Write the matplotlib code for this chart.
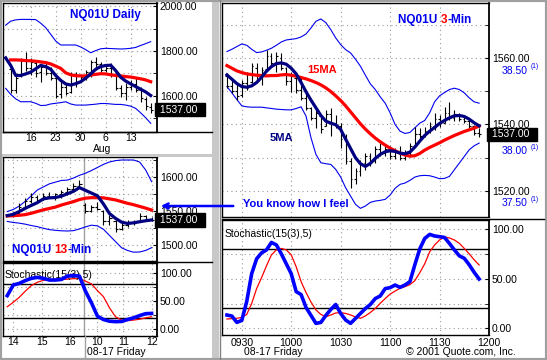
import matplotlib
matplotlib.use('Agg')
import matplotlib.pyplot as plt
import matplotlib.patches as mpatches
import matplotlib.lines as mlines
from matplotlib.ticker import FormatStrFormatter
import numpy as np

plt.rcParams['font.family'] = ['Liberation Sans', 'DejaVu Sans']
plt.rcParams['font.size'] = 7.5

W, H = 547, 360
BLUE = '#0000ee'
NAVY = '#000080'
RED = '#ff0000'
GRID = '#9a9a9a'

# ---------------- NQ01U daily (trading day index, 0 = Jul 16) ----------------
d_open = [1720, 1625, 1690, 1755, 1725, 1748, 1705, 1728, 1700, 1680, 1605, 1640, 1615, 1695, 1662,
          1685, 1705, 1750, 1740, 1715, 1725, 1690, 1635, 1612, 1640, 1650, 1625, 1585, 1550]
d_high = [1730, 1688, 1768, 1795, 1768, 1752, 1745, 1752, 1730, 1692, 1670, 1655, 1707, 1707, 1692,
          1714, 1760, 1775, 1752, 1737, 1745, 1692, 1647, 1655, 1670, 1685, 1640, 1595, 1565]
d_low = [1612, 1610, 1685, 1712, 1692, 1685, 1662, 1690, 1670, 1588, 1588, 1602, 1612, 1640, 1662,
         1670, 1685, 1715, 1707, 1707, 1685, 1625, 1595, 1580, 1625, 1617, 1572, 1535, 1520]
d_close = [1625, 1680, 1760, 1725, 1750, 1700, 1730, 1700, 1680, 1600, 1640, 1610, 1695, 1660, 1685,
           1705, 1750, 1740, 1715, 1725, 1695, 1635, 1610, 1640, 1650, 1625, 1590, 1555, 1537]
d_ma5 = [1769, 1735, 1690, 1690, 1697, 1705, 1720, 1735, 1730, 1718, 1690, 1668, 1652, 1647, 1653,
         1662, 1678, 1697, 1718, 1730, 1735, 1736, 1712, 1682, 1665, 1652, 1640, 1628, 1616, 1600]
d_ma15 = [1760, 1760, 1759, 1757, 1756, 1754, 1751, 1748, 1742, 1732, 1722, 1702, 1693, 1689, 1688,
          1688, 1692, 1695, 1698, 1697, 1693, 1690, 1688, 1685, 1683, 1679, 1675, 1670, 1662]
d_upper = [1916, 1934, 1940, 1942, 1942, 1942, 1941, 1925, 1905, 1875, 1845, 1827, 1827, 1827, 1827,
           1818, 1806, 1792, 1802, 1810, 1812, 1811, 1810, 1809, 1810, 1812, 1816, 1825, 1833, 1842]
d_lower = [1632, 1605, 1585, 1572, 1572, 1572, 1565, 1555, 1556, 1562, 1565, 1568, 1572, 1562, 1557,
           1557, 1557, 1559, 1561, 1564, 1564, 1562, 1560, 1560, 1557, 1552, 1542, 1522, 1500, 1475]
d_ticks = [0, 5, 10, 15, 20]
d_ticklabels = ['16', '23', '30', '6', '13']

# ---------------- NQ01U 13-min (bar index) ----------------
m13_open = [1542.0, 1547.5, 1556, 1565, 1570, 1566, 1572, 1570, 1574, 1578, 1582, 1586,
            1558, 1550, 1555, 1550, 1535, 1535, 1524, 1530, 1534, 1535, 1542, 1538]
m13_high = [1548.8, 1561, 1568.3, 1575.6, 1573.2, 1575.6, 1578, 1575.6, 1580.5, 1585.4, 1590.2, 1595.1,
            1561, 1558.5, 1563.4, 1551.2, 1543.9, 1536.6, 1534.1, 1536.6, 1536.6, 1546.3, 1543.9, 1541.5]
m13_low = [1541.5, 1546.3, 1553.7, 1561, 1563.4, 1565.9, 1568.3, 1565.9, 1569.3, 1573.2, 1578, 1582.9,
           1546.3, 1548.8, 1551.2, 1529.3, 1529.3, 1518.5, 1522, 1526.8, 1529.3, 1534.1, 1536.6, 1535.1]
m13_close = [1547.5, 1556, 1565, 1570, 1566, 1572, 1570, 1574, 1578, 1582, 1586, 1590,
             1550, 1555, 1553, 1535, 1540, 1524, 1530, 1534, 1532, 1542, 1538, 1537]
m13_ma5 = [1543, 1545, 1549, 1553.7, 1558, 1562, 1567.5, 1569, 1569.5, 1571.5, 1575, 1578.5, 1584,
           1580, 1576, 1572, 1560, 1546, 1539, 1533.5, 1531.5, 1532.5, 1534, 1535.5, 1536.6]
m13_ma15 = [1542.4, 1543, 1543.5, 1544.5, 1546.5, 1549, 1551.5, 1553.5, 1555.5, 1558.5, 1561, 1563.5, 1566.5,
            1568.5, 1569.3, 1569.3, 1569, 1567.5, 1566, 1563.5, 1561, 1559, 1556.5, 1554, 1551.2]
m13_upper = [1549, 1552, 1557, 1564, 1572, 1580.5, 1585, 1589.5, 1592, 1594.5, 1595, 1598, 1602,
             1605, 1609, 1613.5, 1618, 1621.5, 1623.5, 1624.4, 1624.4, 1624.4, 1621.5, 1610, 1592.7]
m13_lower = [1534.5, 1533, 1532, 1530.5, 1528.5, 1526.8, 1524.5, 1522.5, 1521.5, 1520.8, 1520.5, 1521, 1523.5,
             1526.5, 1529, 1528, 1523, 1514, 1505, 1496, 1492, 1489.5, 1489.8, 1492, 1496.1]
m13_k = [60, 79, 82, 87, 91, 92.8, 91, 88, 88, 89, 95, 96, 95,
         68, 47, 23, 17, 14, 13.2, 13.5, 17, 20, 24, 27.5, 28]
m13_d = [40, 48, 57, 68, 78, 84, 87.5, 89, 89, 89, 89.5, 90.5, 90.5,
         86, 81, 69, 58, 38, 22, 16, 15, 16, 17.5, 20, 22]
m13_ticks = [-0.1, 4.7, 9.4, 13.9, 18.3, 23.0]
m13_ticklabels = ['14', '15', '16', '10', '11', '12']
m13_session_break = 11.8

# ---------------- NQ01U 3-min, 08-17, first bar 09:21 ----------------
m3_first = 9 * 60 + 21
m3_step = 3
m3_open = [1554.5, 1551.5, 1550.0, 1548.8, 1552.5, 1552.8, 1557.0, 1554.5, 1556.8, 1560.5,
           1558.5, 1560.0, 1557.0, 1553.0, 1554.0, 1550.5, 1548.0, 1545.0, 1542.0, 1542.5,
           1539.5, 1543.0, 1540.5, 1539.5, 1535.5, 1529.0, 1523.5, 1526.0, 1528.5, 1530.5,
           1529.0, 1532.5, 1531.5, 1532.5, 1530.5, 1532.0, 1530.0, 1531.5, 1533.5, 1537.0,
           1536.5, 1538.0, 1539.5, 1541.5, 1540.5, 1543.5, 1542.0, 1543.0, 1541.5, 1541.0,
           1539.5, 1537.5]
m3_high = [1555.4, 1553.9, 1552.4, 1553.4, 1555.9, 1558.4, 1558.4, 1557.4, 1562.4, 1561.4,
           1561.9, 1561.4, 1557.4, 1555.9, 1554.4, 1553.9, 1550.4, 1545.4, 1544.9, 1542.9,
           1544.4, 1544.9, 1542.9, 1540.4, 1537.0, 1530.0, 1527.0, 1529.4, 1531.4, 1531.4,
           1533.4, 1534.4, 1533.4, 1533.4, 1532.9, 1533.5, 1532.3, 1534.3, 1539.3, 1538.8,
           1539.3, 1540.8, 1543.4, 1542.9, 1545.4, 1546.9, 1544.4, 1543.4, 1542.9, 1541.9,
           1539.9, 1538.8]
m3_low = [1550.9, 1549.4, 1547.4, 1548.4, 1550.4, 1552.4, 1553.4, 1551.9, 1556.4, 1557.4,
          1555.9, 1556.4, 1551.9, 1549.9, 1549.4, 1547.4, 1544.4, 1541.4, 1538.9, 1537.4,
          1539.4, 1536.4, 1538.9, 1533.0, 1528.0, 1521.0, 1522.0, 1524.4, 1526.4, 1527.4,
          1528.4, 1530.4, 1530.4, 1529.6, 1529.6, 1529.3, 1529.3, 1530.3, 1533.3, 1535.3,
          1536.3, 1537.3, 1538.3, 1539.3, 1540.4, 1541.4, 1540.9, 1540.9, 1540.4, 1538.8,
          1536.8, 1536.3]
m3_close = [1551.5, 1550.0, 1548.5, 1552.5, 1551.0, 1557.5, 1554.5, 1556.5, 1560.5, 1558.5,
            1560.5, 1557.0, 1553.0, 1554.5, 1550.5, 1548.0, 1545.0, 1542.0, 1543.5, 1538.5,
            1543.0, 1540.5, 1539.5, 1535.5, 1529.0, 1523.5, 1526.0, 1528.5, 1530.5, 1529.0,
            1532.5, 1531.5, 1532.5, 1530.5, 1532.0, 1530.0, 1531.5, 1533.5, 1537.0, 1536.5,
            1538.0, 1539.5, 1541.5, 1540.5, 1543.5, 1542.0, 1543.0, 1541.5, 1541.0, 1539.5,
            1537.5, 1537.0]
m3_ma5 = [1554.9, 1553.6, 1552.3, 1551.4, 1551.2, 1551.6, 1552.6, 1554.2, 1556.0, 1557.4,
          1558.3, 1558.5, 1558.1, 1556.9, 1555.2, 1552.6, 1549.8, 1547.3, 1545.0, 1542.7,
          1541.0, 1540.4, 1539.9, 1538.5, 1535.6, 1532.8, 1530.0, 1528.2, 1527.4, 1528.3,
          1529.8, 1531.0, 1531.8, 1532.1, 1531.9, 1531.4, 1531.2, 1531.7, 1533.2, 1535.0,
          1536.7, 1538.0, 1539.1, 1540.3, 1541.2, 1542.0, 1542.6, 1542.7, 1542.4, 1541.6,
          1540.5, 1539.6]
m3_ma15 = [1557.7, 1556.9, 1556.1, 1555.6, 1555.2, 1555.0, 1554.8, 1554.7, 1554.6, 1554.7,
           1554.7, 1554.9, 1555.0, 1554.8, 1554.5, 1554.1, 1553.7, 1553.2, 1552.6, 1551.9,
           1551.0, 1549.9, 1548.6, 1547.2, 1545.6, 1543.8, 1542.0, 1540.2, 1538.6, 1537.2,
           1535.9, 1534.8, 1533.8, 1532.9, 1532.1, 1531.4, 1530.8, 1530.5, 1530.6, 1531.3,
           1532.3, 1533.1, 1533.8, 1534.5, 1535.3, 1536.0, 1536.7, 1537.3, 1537.9, 1538.4,
           1538.9, 1539.5]
m3_upper = [1561.9, 1562.6, 1563.4, 1564.2, 1563.8, 1562.6, 1561.6, 1561.8, 1562.3, 1562.9,
            1563.8, 1564.8, 1565.4, 1565.6, 1565.8, 1566.3, 1567.2, 1569.0, 1571.0, 1571.7,
            1570.6, 1568.5, 1566.0, 1564.0, 1562.5, 1561.5, 1559.6, 1557.5, 1554.8, 1552.2,
            1550.5, 1548.3, 1546.4, 1543.5, 1540.0, 1538.0, 1537.3, 1537.6, 1539.0, 1540.4,
            1541.2, 1543.5, 1546.8, 1548.6, 1549.6, 1550.5, 1550.9, 1550.5, 1549.5, 1548.0,
            1546.8, 1546.4]
m3_lower = [1551.4, 1549.5, 1547.5, 1545.6, 1545.3, 1545.2, 1545.2, 1545.2, 1545.0, 1544.8,
            1544.6, 1544.5, 1544.4, 1544.4, 1544.8, 1545.3, 1542.5, 1536.0, 1531.0, 1528.5,
            1528.2, 1528.0, 1526.5, 1524.2, 1521.0, 1518.5, 1516.0, 1514.8, 1515.5, 1516.6,
            1517.0, 1517.2, 1517.5, 1518.8, 1520.8, 1522.0, 1522.4, 1523.2, 1524.2, 1524.6,
            1524.7, 1524.6, 1524.2, 1523.7, 1523.8, 1524.4, 1526.4, 1528.4, 1530.4, 1532.4,
            1533.6, 1534.4]
m3_k = [13.4, 12.4, 6, 8, 27, 55, 70, 76, 79, 86.5, 84, 75, 65, 55, 37, 34, 21, 13, 5, 6,
        13, 19, 24, 15, 8.4, 5, 10, 15, 20, 24, 30, 32.6, 40, 41, 43.6, 41.3, 43.6, 47, 64, 80,
        90.5, 94.6, 93, 92.3, 91.5, 85.5, 79, 73, 70.5, 64, 56.4, 49.7]
m3_d = [9.4, 9.8, 10.1, 11, 14, 25, 40, 51, 63, 74, 79, 80.5, 79, 74, 62, 47, 36, 26.5, 18.5, 14,
        11.7, 13.4, 15.5, 15.8, 15, 13.5, 11.5, 10.1, 12.5, 16, 20, 25.2, 30, 34.5, 37.5, 40.3, 42, 44, 48, 56,
        65, 77, 84, 89, 92, 91, 89, 85.6, 80.5, 75, 69, 63.8]
m3_ticklabels = ['0930', '1000', '1030', '1100', '1130', '1200']
m3_alt_labels = ['38.50', '38.00', '37.50']
m3_alt_levels = [1556.1, 1532.0, 1516.4]


def fx(p):
    return p / W


def fy(p):
    return 1 - p / H


fig = plt.figure(figsize=(W / 100, H / 100), dpi=100)
fig.patch.set_facecolor('white')


def panel(l, t, r, b):
    return fig.add_axes([fx(l), fy(b), fx(r) - fx(l), fy(t) - fy(b)])


def style(ax, xlim, ylim, ymajor, yminor, xgrid):
    ax.set_xlim(*xlim)
    ax.set_ylim(*ylim)
    ax.yaxis.tick_right()
    ax.set_yticks(ymajor)
    ax.set_yticks(yminor, minor=True)
    ax.yaxis.set_major_formatter(FormatStrFormatter('%.2f'))
    ax.tick_params(axis='y', which='both', direction='in', length=3, pad=2, labelsize=7.5)
    ax.tick_params(axis='x', length=0, pad=2, labelsize=7.5)
    ax.set_xticks(xgrid)
    for y in list(ymajor) + list(yminor):
        ax.axhline(y, color=GRID, lw=0.8, ls=(0, (1, 3)), zorder=0)
    for x in xgrid:
        ax.axvline(x, color=GRID, lw=0.8, ls=(0, (1, 3)), zorder=0)
    for s in ax.spines.values():
        s.set_color('black')
        s.set_linewidth(1)
    ax.spines['right'].set_linewidth(1.3)


def ohlc(ax, x, o, h, l, c, tick):
    x = np.asarray(x, dtype=float)
    ax.vlines(x, l, h, color='black', lw=0.8, zorder=2)
    ax.hlines(o, x - tick, x, color='black', lw=0.8, zorder=2)
    ax.hlines(c, x, x + tick, color='black', lw=0.8, zorder=2)


def last_box(ax, value):
    ax.text(1.0, value, ' %.2f  ' % value, transform=ax.get_yaxis_transform(),
            ha='left', va='center', color='white', fontsize=7.5, clip_on=False, zorder=6,
            bbox=dict(boxstyle='square,pad=0.18', fc='black', ec='black'))


def stoch_style(ax):
    ax.axhline(80, color='black', lw=1, zorder=1)
    ax.axhline(20, color='black', lw=1, zorder=1)
    ax.yaxis.set_major_formatter(FormatStrFormatter('%.2f'))


# ---------- daily ----------
ax_d = panel(3, 3, 157, 132)
style(ax_d, (-5.54, 25.26), (1436, 2015.7), [1600, 1800, 2000], [1500, 1700, 1900], d_ticks)
ax_d.set_xticklabels(d_ticklabels)
ax_d.tick_params(axis='x', pad=0.5)
d_bar_x = np.arange(-4, 25)
d_line_x = np.arange(-5, 25)
ax_d.plot(d_line_x, d_upper, color=BLUE, lw=0.8, zorder=1)
ax_d.plot(d_line_x, d_lower, color=BLUE, lw=0.8, zorder=1)
ohlc(ax_d, d_bar_x, d_open, d_high, d_low, d_close, 0.4)
ax_d.plot(d_bar_x, d_ma15, color=RED, lw=2.3, zorder=3)
ax_d.plot(d_line_x, d_ma5, color=NAVY, lw=2.3, zorder=4)
last_box(ax_d, d_close[-1])
fig.text(fx(102), fy(149), 'Aug', ha='center', va='center', fontsize=7.5)
fig.text(fx(70), fy(15), 'NQ01U Daily', color=BLUE, fontsize=8.5, fontweight='bold', va='center')

# ---------- 13-min ----------
ax_13 = panel(3, 157, 157, 261)
style(ax_13, (-1.71, 23.9), (1476.6, 1628.8), [1500, 1550, 1600], [1525, 1575, 1625], m13_ticks)
ax_13.set_xticklabels([])
m13_bar_x = np.arange(0, 24)
m13_line_x = np.arange(-1, 24)
ax_13.plot(m13_line_x, m13_upper, color=BLUE, lw=0.8, zorder=1)
ax_13.plot(m13_line_x, m13_lower, color=BLUE, lw=0.8, zorder=1)
ohlc(ax_13, m13_bar_x, m13_open, m13_high, m13_low, m13_close, 0.35)
ax_13.plot(m13_line_x, m13_ma15, color=RED, lw=2.3, zorder=3)
ax_13.plot(m13_line_x, m13_ma5, color=NAVY, lw=2.3, zorder=4)
last_box(ax_13, m13_close[-1])
t1 = ax_13.text(0.06, 0.11, 'NQ01U ', transform=ax_13.transAxes, color=BLUE,
                fontsize=8.5, fontweight='bold', va='center')
t2 = ax_13.annotate('13', xy=(1, 0), xycoords=t1, va='bottom', color=RED,
                    fontsize=8.5, fontweight='bold', annotation_clip=False)
ax_13.annotate('-Min', xy=(1, 0), xycoords=t2, va='bottom', color=BLUE,
               fontsize=8.5, fontweight='bold', annotation_clip=False)

# ---------- left stochastic ----------
ax_ls = panel(3, 263, 157, 336)
style(ax_ls, (-1.71, 23.9), (-12.6, 118.6), [0, 50, 100], [25, 75], m13_ticks)
ax_ls.set_xticklabels(m13_ticklabels)
ax_ls.tick_params(axis='x', pad=1)
stoch_style(ax_ls)
ax_ls.plot(m13_line_x, m13_d, color=RED, lw=0.9, zorder=3)
ax_ls.plot(m13_line_x, m13_k, color='#0000ff', lw=2.6, zorder=4)
ax_ls.text(0.01, 0.84, 'Stochastic(15(3),5)', transform=ax_ls.transAxes, fontsize=7.5, va='center')
fig.text(fx(116), fy(352), '08-17 Friday', ha='center', va='center', fontsize=7.5)
for ax in (ax_13, ax_ls):
    ax.axvline(m13_session_break, color='#a0a0a0', lw=1, zorder=0)
fig.add_artist(mlines.Line2D([fx(85), fx(85)], [fy(336), fy(357)], color='#a0a0a0', lw=1))

# ---------- 3-min ----------
m3_x = np.arange(len(m3_close))
m3_tick_min = [int(s[:2]) * 60 + int(s[2:]) for s in m3_ticklabels]
m3_ticks = [(m - m3_first) / m3_step for m in m3_tick_min]

ax_r = panel(222, 3, 489, 217)
style(ax_r, (-1, 52.4), (1512.2, 1576.5), [1520, 1540, 1560], [1530, 1550, 1570], m3_ticks)
ax_r.set_xticklabels([])
ax_r.plot(m3_x, m3_upper, color=BLUE, lw=0.8, zorder=1)
ax_r.plot(m3_x, m3_lower, color=BLUE, lw=0.8, zorder=1)
ohlc(ax_r, m3_x, m3_open, m3_high, m3_low, m3_close, 0.35)
ax_r.plot(m3_x, m3_ma15, color=RED, lw=2.3, zorder=3)
ax_r.plot(m3_x, m3_ma5, color=NAVY, lw=2.3, zorder=4)
last_box(ax_r, m3_close[-1])
for lab, lev in zip(m3_alt_labels, m3_alt_levels):
    ta = ax_r.text(1.049, lev, lab, transform=ax_r.get_yaxis_transform(), color=BLUE,
                   fontsize=7.5, va='center', clip_on=False)
    ax_r.annotate('(1)', xy=(1, 0.55), xycoords=ta, xytext=(2, 0), textcoords='offset points',
                  color=BLUE, fontsize=4.8, va='bottom', annotation_clip=False)
r1 = ax_r.text(0.66, 0.92, 'NQ01U ', transform=ax_r.transAxes, color=BLUE,
               fontsize=8.5, fontweight='bold', va='center')
r2 = ax_r.annotate('3', xy=(1, 0), xycoords=r1, va='bottom', color=RED,
                   fontsize=8.5, fontweight='bold', annotation_clip=False)
ax_r.annotate('-Min', xy=(1, 0), xycoords=r2, va='bottom', color=BLUE,
              fontsize=8.5, fontweight='bold', annotation_clip=False)
ax_r.text(0.32, 0.685, '15MA', transform=ax_r.transAxes, color=RED, fontsize=8,
          fontweight='bold', va='center')
ax_r.text(0.18, 0.37, '5MA', transform=ax_r.transAxes, color=NAVY, fontsize=8,
          fontweight='bold', va='center')
ax_r.text(0.078, 0.06, 'You know how I feel', transform=ax_r.transAxes, color=BLUE,
          fontsize=8, fontweight='bold', va='center')

# ---------- right stochastic ----------
ax_rs = panel(222, 220, 489, 335)
style(ax_rs, (-1, 52.4), (-6.7, 109.1), [0, 50, 100], [25, 75], m3_ticks)
ax_rs.set_xticklabels(m3_ticklabels)
stoch_style(ax_rs)
ax_rs.plot(m3_x, m3_d, color=RED, lw=0.9, zorder=3)
ax_rs.plot(m3_x, m3_k, color='#0000ff', lw=2.6, zorder=4)
ax_rs.text(0.01, 0.88, 'Stochastic(15(3),5)', transform=ax_rs.transAxes, fontsize=7.5, va='center')
fig.text(fx(273), fy(352), '08-17 Friday', ha='center', va='center', fontsize=7.5)
fig.text(fx(461), fy(352), '\u00a9 2001 Quote.com, Inc.', ha='center', va='center', fontsize=7.5)

# ---------- frame, separators, arrow ----------
fig.add_artist(mpatches.Rectangle((fx(212), 0), fx(219) - fx(212), 1, transform=fig.transFigure,
                                  fc='#c8c8c8', ec='none'))
fig.add_artist(mlines.Line2D([fx(220), fx(220)], [0, 1], color='#808080', lw=1))
fig.add_artist(mpatches.Rectangle((0, fy(157)), fx(212), fy(154) - fy(157), transform=fig.transFigure,
                                  fc='#c8c8c8', ec='none'))
for y, x0, x1 in [(132, 3, 212), (262, 3, 212), (219, 222, 544)]:
    fig.add_artist(mlines.Line2D([fx(x0), fx(x1)], [fy(y), fy(y)], color='black', lw=1))
fig.add_artist(mpatches.Rectangle((0, 0), 1, 1, transform=fig.transFigure, fill=False,
                                  ec='#a0a0a0', lw=3))
fig.add_artist(mpatches.FancyArrowPatch((fx(236), fy(206)), (fx(158), fy(206)),
                                        transform=fig.transFigure, arrowstyle='->',
                                        mutation_scale=9, color='#0000ff', lw=1.8, zorder=10))

fig.savefig('out.png', dpi=100, facecolor='white')
